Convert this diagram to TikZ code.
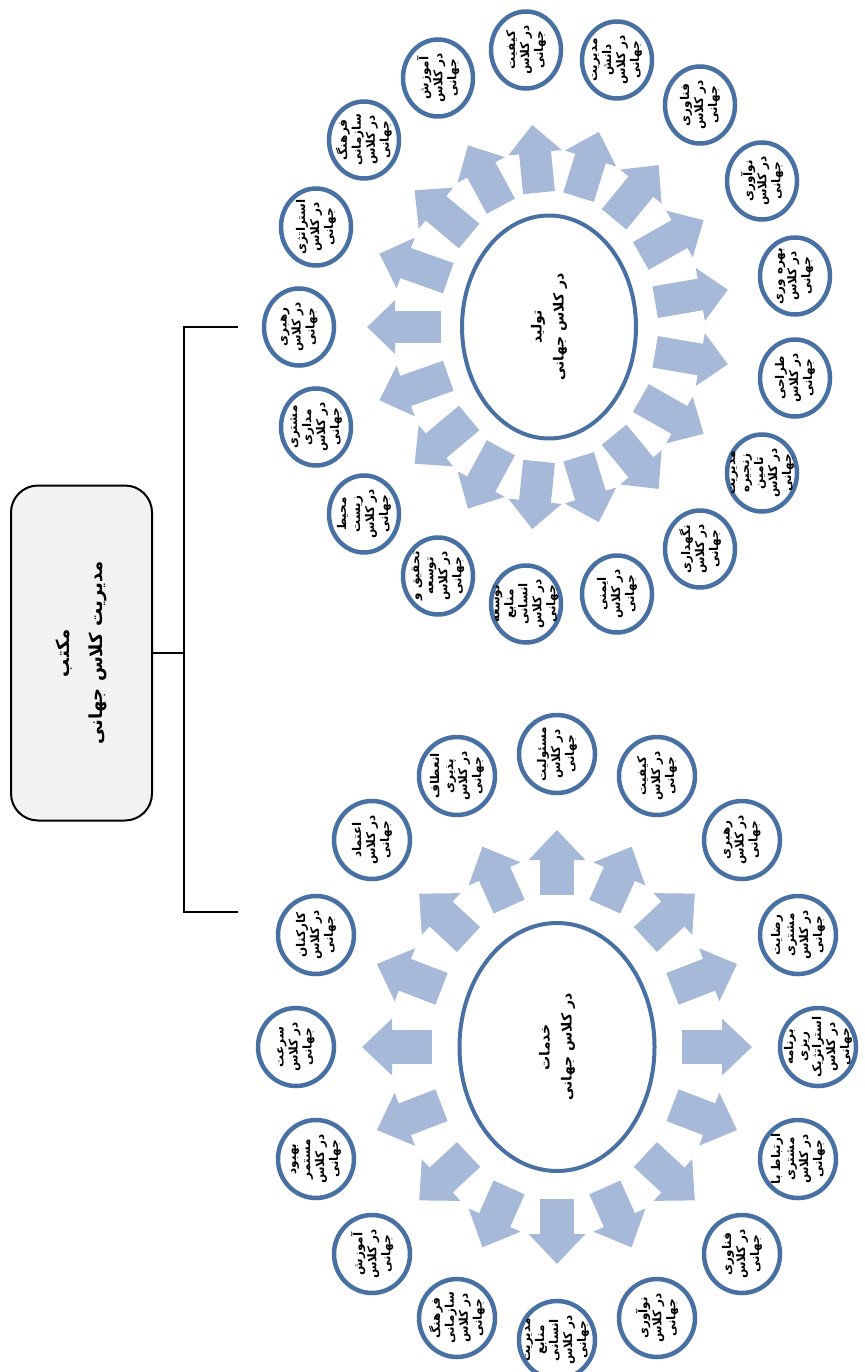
\documentclass[tikz,border=0pt]{standalone}
\usepackage{fontspec}
\usepackage{tikz}
\usetikzlibrary{shapes.geometric, arrows.meta}
\TeXXeTstate=1
\newfontfamily\farsi[Script=Arabic]{DejaVu Sans}
\newcommand{\fatxt}[1]{\beginR #1\endR}
\newcommand{\wcend}{\fatxt{در کلاس}\\\fatxt{جهانی}}
\definecolor{ringblue}{RGB}{72,112,163}
\definecolor{spokeblue}{RGB}{167,185,217}
\definecolor{boxgrey}{RGB}{242,242,242}

\begin{document}
\begin{tikzpicture}[x=1pt, y=-1pt,
	hub/.style={ellipse, draw=ringblue, line width=4pt, fill=white, rotate=90, align=center, font=\farsi\bfseries\fontsize{14}{22}\selectfont},
	leafA/.style={ellipse, draw=ringblue, line width=4.5pt, fill=white, rotate=90, align=center, inner sep=-15pt, minimum width=77pt, minimum height=70pt, font=\farsi\bfseries\fontsize{12}{14}\selectfont},
	leafB/.style={leafA, minimum width=78pt, minimum height=76pt},
	spokeA/.style={draw=spokeblue, line width=32pt, -{Triangle[width=52pt, length=28pt]}},
	spokeB/.style={draw=spokeblue, line width=34pt, -{Triangle[width=55pt, length=30pt]}},
	school/.style={rectangle, rounded corners=27pt, draw=black, line width=2pt, fill=boxgrey, rotate=90, align=center, minimum width=335pt, minimum height=141pt, font=\farsi\bfseries\fontsize{18}{33}\selectfont},
	bracket/.style={draw=black, line width=2pt}]
	\useasboundingbox (0,0) rectangle (864,1372);
	
	% spokes round the two hubs
	\begin{scope}[shift={(549,327)}]
		\foreach \k in {0,...,16} {
			\coordinate (tA\k) at ({180+\k*360/17}:108pt and 135pt);
			\coordinate (hA\k) at ({180+\k*360/17}:182pt and 203pt);
			\draw[spokeA] (tA\k) -- (hA\k);
		}
	\end{scope}
	\begin{scope}[shift={(557,1047)}]
		\foreach \k in {0,...,15} {
			\coordinate (tB\k) at ({\k*22.5}:125pt and 152pt);
			\coordinate (hB\k) at ({\k*22.5}:195pt and 217pt);
			\draw[spokeB] (tB\k) -- (hB\k);
		}
	\end{scope}
	
	% hubs
	\node[hub, minimum width=223pt, minimum height=174pt] (prod) at (549,327) {\fatxt{تولید}\\\fatxt{در کلاس جهانی}};
	\node[hub, minimum width=248pt, minimum height=195pt] (serv) at (557,1047) {\fatxt{خدمات}\\\fatxt{در کلاس جهانی}};
	
	% production ring
	\node[leafA] (p1) at (526,50) {\fatxt{کیفیت}\\\wcend};
	\node[leafA] (p2) at (617,60) {\fatxt{مدیریت}\\\fatxt{دانش}\\\wcend};
	\node[leafA] (p3) at (700,105) {\fatxt{فناوری}\\\wcend};
	\node[leafA] (p4) at (762,181) {\fatxt{نوآوری}\\\wcend};
	\node[leafA] (p5) at (795,276) {\fatxt{بهره وری}\\\wcend};
	\node[leafA] (p6) at (795,378) {\fatxt{طراحی}\\\wcend};
	\node[leafA] (p7) at (762,473) {\fatxt{مدیریت}\\\fatxt{زنجیره}\\\fatxt{تامین}\\\wcend};
	\node[leafA] (p8) at (700,549) {\fatxt{نگهداری}\\\wcend};
	\node[leafA] (p9) at (617,594) {\fatxt{ایمنی}\\\wcend};
	\node[leafA] (p10) at (526,604) {\fatxt{توسعه}\\\fatxt{منابع}\\\fatxt{انسانی}\\\wcend};
	\node[leafA] (p11) at (438,576) {\fatxt{تحقیق و}\\\fatxt{توسعه}\\\wcend};
	\node[leafA] (p12) at (364,514) {\fatxt{محیط}\\\fatxt{زیست}\\\wcend};
	\node[leafA] (p13) at (316,427) {\fatxt{مشتری}\\\fatxt{مداری}\\\wcend};
	\node[leafA] (p14) at (299,327) {\fatxt{رهبری}\\\wcend};
	\node[leafA] (p15) at (316,227) {\fatxt{استراتژی}\\\wcend};
	\node[leafA] (p16) at (364,140) {\fatxt{فرهنگ}\\\fatxt{سازمانی}\\\wcend};
	\node[leafA] (p17) at (438,78) {\fatxt{آموزش}\\\wcend};
	
	% services ring
	\node[leafB] (s1) at (557,754) {\fatxt{مسئولیت}\\\wcend};
	\node[leafB] (s2) at (657,776) {\fatxt{کیفیت}\\\wcend};
	\node[leafB] (s3) at (742,840) {\fatxt{رهبری}\\\wcend};
	\node[leafB] (s4) at (798,935) {\fatxt{رضایت}\\\fatxt{مشتری}\\\wcend};
	\node[leafB] (s5) at (818,1047) {\fatxt{برنامه}\\\fatxt{ریزی}\\\fatxt{استراتژیک}\\\wcend};
	\node[leafB] (s6) at (798,1159) {\fatxt{ارتباط با}\\\fatxt{مشتری}\\\wcend};
	\node[leafB] (s7) at (742,1254) {\fatxt{فناوری}\\\wcend};
	\node[leafB] (s8) at (657,1318) {\fatxt{نوآوری}\\\wcend};
	\node[leafB] (s9) at (557,1340) {\fatxt{مدیریت}\\\fatxt{منابع}\\\fatxt{انسانی}\\\wcend};
	\node[leafB] (s10) at (457,1318) {\fatxt{فرهنگ}\\\fatxt{سازمانی}\\\wcend};
	\node[leafB] (s11) at (372,1254) {\fatxt{آموزش}\\\wcend};
	\node[leafB] (s12) at (316,1159) {\fatxt{بهبود}\\\fatxt{مستمر}\\\wcend};
	\node[leafB] (s13) at (296,1047) {\fatxt{سرعت}\\\wcend};
	\node[leafB] (s14) at (316,935) {\fatxt{کارکنان}\\\wcend};
	\node[leafB] (s15) at (372,840) {\fatxt{اعتماد}\\\wcend};
	\node[leafB] (s16) at (457,776) {\fatxt{انعطاف}\\\fatxt{پذیری}\\\wcend};
	
	% school box and bracket
	\node[school] (school) at (81.5,653) {\fatxt{مکتب}\\\fatxt{مدیریت کلاس جهانی}};
	\coordinate (fork) at (184,653);
	\coordinate (armP) at (238,327);
	\coordinate (armS) at (238,912);
	\draw[bracket] (school.south) -- (fork);
	\draw[bracket] (armP) -| (fork);
	\draw[bracket] (armS) -| (fork);
\end{tikzpicture}
\end{document}
